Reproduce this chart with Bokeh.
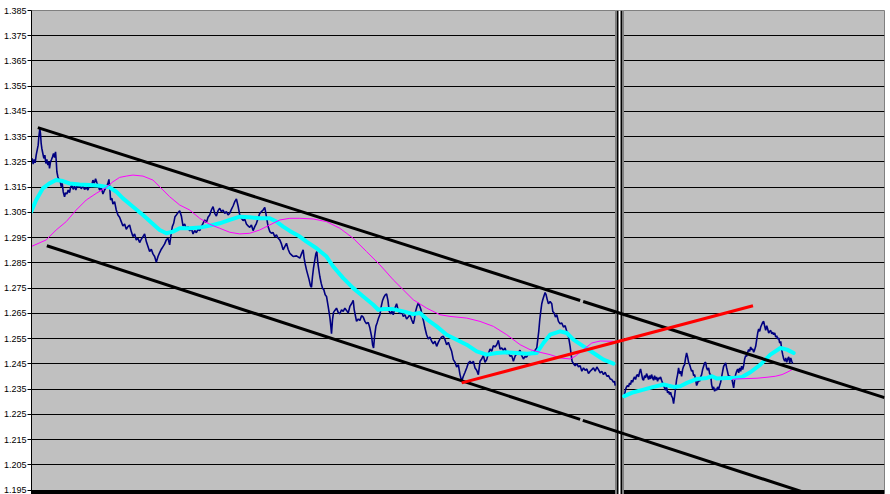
from bokeh.plotting import figure
from bokeh.models import Range1d, FixedTicker, PrintfTickFormatter
from bokeh.embed import file_html
from bokeh.resources import INLINE

# ---------------- data (time index t, price) ----------------
tick_values = [1.195, 1.205, 1.215, 1.225, 1.235, 1.245, 1.255, 1.265, 1.275, 1.285,
               1.295, 1.305, 1.315, 1.325, 1.335, 1.345, 1.355, 1.365, 1.375, 1.385]

price_left_t = [
    95, 98, 101, 104, 107, 110, 113, 116, 118, 121, 123, 125, 127, 130, 133, 136, 139, 142, 145, 148,
    150, 153, 156, 159, 162, 165, 168, 170, 172, 175, 178, 181, 185, 188, 191, 195, 198, 202, 206, 210,
    213, 217, 221, 225, 229, 233, 237, 241, 245, 250, 255, 260, 265, 270, 275, 280, 284, 288, 292, 296,
    300, 305, 310, 315, 320, 325, 328, 331, 333, 337, 340, 345, 350, 355, 360, 365, 370, 375, 380, 385,
    390, 395, 400, 405, 410, 415, 420, 425, 430, 435, 440, 445, 450, 455, 460, 465, 470, 475, 480, 485,
    490, 495, 500, 505, 510, 514, 518, 522, 526, 530, 535, 540, 545, 550, 555, 560, 565, 570, 575, 580,
    585, 590, 595, 600, 605, 610, 615, 620, 625, 630, 635, 640, 645, 650, 655, 660, 665, 670, 675, 680,
    685, 690, 695, 700, 705, 710, 715, 720, 725, 730, 735, 740, 745, 750, 755, 760, 765, 770, 775, 780,
    785, 790, 795, 800, 805, 810, 815, 820, 825, 830, 835, 840, 845, 850, 855, 860, 865, 870, 875, 880,
    890, 900,
    905, 910, 913, 916, 920, 924, 928, 932, 935, 938, 941, 945, 948, 951, 954, 957, 960, 964, 968, 972,
    976, 980, 985, 990, 993, 995, 998, 1001, 1005, 1010, 1015, 1020, 1025, 1030, 1035, 1040, 1045, 1050,
    1055, 1060, 1063, 1066, 1070, 1075, 1080, 1085, 1090, 1095, 1100, 1105, 1110, 1115, 1118, 1121, 1124,
    1128, 1132, 1136, 1140, 1144, 1148, 1152, 1156, 1160, 1164, 1168, 1172, 1176, 1180, 1185, 1190, 1195,
    1200, 1205, 1210, 1215, 1220, 1225, 1230, 1235, 1240, 1243, 1247, 1251, 1255, 1259, 1263, 1267, 1271,
    1275, 1280, 1285, 1290, 1295, 1300, 1305, 1310, 1315, 1320, 1325, 1330, 1335, 1340, 1345, 1350, 1355,
    1360, 1365, 1370, 1375, 1380, 1385, 1390, 1395, 1400, 1405, 1410, 1415, 1420, 1425, 1430, 1435, 1440,
    1445, 1450, 1455, 1460, 1465, 1470, 1475, 1480, 1485, 1490, 1495, 1500, 1505, 1510, 1515, 1520, 1525,
    1530, 1535, 1540, 1545, 1550, 1555, 1560, 1565, 1570, 1575, 1580, 1585, 1590, 1595, 1600, 1605, 1610,
    1613, 1616, 1619, 1622, 1625, 1628, 1631, 1635, 1638, 1641, 1645, 1650, 1655, 1658, 1662, 1666, 1670,
    1675, 1680, 1685, 1690, 1695, 1700, 1705, 1710, 1713, 1716, 1720, 1725, 1730, 1735, 1740, 1745, 1750,
    1755, 1760, 1765, 1770, 1775, 1780, 1785, 1790, 1795, 1800, 1805, 1810, 1815, 1820, 1825, 1830, 1835,
    1840, 1843, 1845]

price_left = [
    1.32506, 1.32637, 1.32413, 1.32598, 1.32466, 1.32769, 1.32967, 1.33164, 1.33494, 1.33823,
    1.33626, 1.33230, 1.33033, 1.32835, 1.32637, 1.32769, 1.32440, 1.32598, 1.32374, 1.32506,
    1.32242, 1.32506, 1.32598, 1.32703, 1.32835, 1.32677, 1.32901, 1.32572, 1.32110, 1.31913,
    1.31781, 1.31807, 1.31518, 1.31649, 1.31320, 1.31122, 1.31280, 1.31228, 1.31386, 1.31280,
    1.31491, 1.31583, 1.31412, 1.31544, 1.31386, 1.31583, 1.31491, 1.31583, 1.31438, 1.31544,
    1.31412, 1.31491, 1.31386, 1.31583, 1.31491, 1.31781, 1.31649, 1.31834, 1.31676, 1.31544,
    1.31386, 1.31491, 1.31228, 1.31386, 1.31491, 1.31649, 1.31807, 1.31386, 1.30991, 1.31056,
    1.30832, 1.30925, 1.30595, 1.30398, 1.30305, 1.30134, 1.29963, 1.30042, 1.29831, 1.29937,
    1.30002, 1.29739, 1.29541, 1.29647, 1.29409, 1.29475, 1.29304, 1.29436, 1.29541, 1.29647,
    1.29344, 1.29146, 1.28948, 1.29041, 1.28856, 1.28751, 1.28527, 1.28751, 1.28909, 1.29041,
    1.29146, 1.29251, 1.29409, 1.29475, 1.29212, 1.29607, 1.29937, 1.30068, 1.30332, 1.30398,
    1.30490, 1.30569, 1.30358, 1.29963, 1.30042, 1.29831, 1.29937, 1.29765, 1.29871, 1.29647,
    1.29778, 1.29699, 1.29831, 1.29778, 1.29937, 1.30068, 1.30200, 1.30095, 1.30305, 1.30398,
    1.30595, 1.30727, 1.30464, 1.30358, 1.30569, 1.30661, 1.30529, 1.30595, 1.30464, 1.30529,
    1.30398, 1.30464, 1.30622, 1.30753, 1.30925, 1.31030, 1.30753, 1.30398, 1.30266, 1.30174,
    1.30226, 1.30042, 1.29963, 1.29910, 1.30002, 1.29778, 1.29937, 1.30068, 1.30266, 1.30464,
    1.30529, 1.30595, 1.30701, 1.30332, 1.29937, 1.29739, 1.29673, 1.29699, 1.29541, 1.29607,
    1.29475, 1.29409, 1.29251, 1.29014, 1.29146, 1.29278, 1.29041, 1.28883, 1.28817, 1.28751,
    1.28777, 1.28685,
    1.28856, 1.29014, 1.28684, 1.28460, 1.28223, 1.28026, 1.27828, 1.27591, 1.27538, 1.27960,
    1.28289, 1.28619, 1.28856, 1.28948, 1.28487, 1.28223, 1.27960, 1.27696, 1.27499, 1.27433,
    1.27235, 1.27170, 1.26774, 1.26353, 1.25984, 1.25694, 1.26247, 1.26537, 1.26616, 1.26708,
    1.26537, 1.26484, 1.26643, 1.26577, 1.26708, 1.26616, 1.26511, 1.26774, 1.26880, 1.27012,
    1.26643, 1.26445, 1.26181, 1.26274, 1.26221, 1.26405, 1.26353, 1.26181, 1.26089, 1.26142,
    1.25918, 1.25588, 1.25259, 1.25127, 1.25588, 1.25984, 1.26142, 1.26313, 1.26445, 1.26774,
    1.27012, 1.27143, 1.27235, 1.27275, 1.27012, 1.26577, 1.26484, 1.26577, 1.26445, 1.26708,
    1.26880, 1.26616, 1.26484, 1.26577, 1.26379, 1.26445, 1.26274, 1.26353, 1.26445, 1.26247,
    1.26089, 1.26247, 1.26577, 1.26774, 1.26906, 1.26800, 1.26643, 1.26379, 1.26181, 1.25918,
    1.25654, 1.25483, 1.25562, 1.25391, 1.25298, 1.25391, 1.25193, 1.25351, 1.25483, 1.25562,
    1.25588, 1.25457, 1.25259, 1.25351, 1.25167, 1.24995, 1.24666, 1.24561, 1.24376, 1.24468,
    1.24073, 1.23810, 1.24007, 1.24165, 1.24337, 1.24534, 1.24600, 1.24508, 1.24600, 1.24337,
    1.24244, 1.24073, 1.24600, 1.24692, 1.24824, 1.24561, 1.24666, 1.24903, 1.25088, 1.24995,
    1.25219, 1.25167, 1.25259, 1.25430, 1.25088, 1.25127, 1.25035, 1.25127, 1.24903, 1.24956,
    1.24798, 1.24824, 1.24600, 1.24798, 1.24903, 1.24956, 1.25035, 1.24824, 1.24692, 1.24798,
    1.24771, 1.24903, 1.24864, 1.24956, 1.24903, 1.25035, 1.25127, 1.25457, 1.25786, 1.26247,
    1.26577, 1.26880, 1.27038, 1.27170, 1.27327, 1.27235, 1.27064, 1.26880, 1.26972, 1.26880,
    1.26577, 1.26511, 1.26353, 1.26445, 1.26181, 1.26089, 1.26115, 1.25957, 1.26010, 1.25786,
    1.25588, 1.25193, 1.24864, 1.24600, 1.24508, 1.24429, 1.24508, 1.24376, 1.24429, 1.24205,
    1.24337, 1.24244, 1.24298, 1.24113, 1.24205, 1.24271, 1.24337, 1.24205, 1.24376, 1.24271,
    1.24139, 1.24205, 1.24073, 1.24165, 1.24007, 1.24034, 1.23902, 1.23876, 1.23771, 1.23810,
    1.23638]

price_right_start = 1873
price_right_step = 3
price_right = [
    1.23283, 1.23480, 1.23586, 1.23638, 1.23586, 1.23744, 1.23678, 1.23849, 1.23770, 1.23902,
    1.23981, 1.23876, 1.24034, 1.24073, 1.23981, 1.24165, 1.24297, 1.24113, 1.23902, 1.23849,
    1.24034, 1.23941, 1.24113, 1.24007, 1.23876, 1.24034, 1.23902, 1.24073, 1.23941, 1.23849,
    1.24034, 1.23876, 1.23981, 1.23810, 1.23941, 1.23902, 1.23981, 1.23849, 1.23744, 1.23638,
    1.23546, 1.23454, 1.23586, 1.23349, 1.23414, 1.23283, 1.23375, 1.23217, 1.23151, 1.22927,
    1.23217, 1.23546, 1.23876, 1.24073, 1.24337, 1.24113, 1.24205, 1.24007, 1.24271, 1.24403,
    1.24469, 1.24732, 1.24930, 1.24772, 1.24561, 1.24469, 1.24337, 1.24205, 1.24245, 1.24034,
    1.24073, 1.23876, 1.23638, 1.23744, 1.23876, 1.23810, 1.23981, 1.24073, 1.24271, 1.24403,
    1.24535, 1.24561, 1.24337, 1.24245, 1.24337, 1.24113, 1.24073, 1.23678, 1.23507, 1.23586,
    1.23414, 1.23507, 1.23454, 1.23586, 1.23480, 1.23638, 1.23770, 1.23981, 1.24205, 1.24403,
    1.24469, 1.24535, 1.24337, 1.24165, 1.23981, 1.24034, 1.23876, 1.23941, 1.23744, 1.23546,
    1.23876, 1.24073, 1.24205, 1.24297, 1.24140, 1.24337, 1.24205, 1.24403, 1.24271, 1.24429,
    1.24693, 1.24825, 1.24798, 1.24956, 1.25062, 1.24996, 1.25167, 1.25062, 1.25088, 1.24956,
    1.25062, 1.25194, 1.25457, 1.25721, 1.25879, 1.25786, 1.25958, 1.26050, 1.26142, 1.26182,
    1.25984, 1.25826, 1.26010, 1.25879, 1.25721, 1.25786, 1.25826, 1.25694, 1.25747, 1.25655,
    1.25721, 1.25562, 1.25615, 1.25483, 1.25523, 1.25325, 1.25391, 1.25062, 1.24864, 1.24693,
    1.24601, 1.24732, 1.24561, 1.24693, 1.24772, 1.24535, 1.24732, 1.24601, 1.24508]
price_right_t = [price_right_start + price_right_step * i for i in range(len(price_right))]

ma_fast_left_t = [95, 110, 130, 150, 170, 190, 210, 240, 270, 300, 330, 350, 370, 400, 430, 460, 480,
                  500, 520, 540, 570, 600, 630, 660, 690, 720, 750, 780, 810, 830, 850, 870, 900,
                  920, 950, 980, 1000, 1030, 1060, 1090, 1120, 1135, 1150, 1180, 1210, 1240, 1260,
                  1280, 1310, 1340, 1370, 1400, 1430, 1460, 1490, 1520, 1550, 1580, 1610, 1630, 1650,
                  1680, 1700, 1720, 1750, 1780, 1810, 1840]
ma_fast_left = [1.30529, 1.30991, 1.31452, 1.31649, 1.31781, 1.31742, 1.31649, 1.31610, 1.31583,
                1.31557, 1.31491, 1.31320, 1.31056, 1.30727, 1.30398, 1.30042, 1.29805, 1.29673,
                1.29739, 1.29871, 1.29871, 1.29897, 1.29976, 1.30068, 1.30200, 1.30332, 1.30305,
                1.30266, 1.30266, 1.30134, 1.29937, 1.29765, 1.29541, 1.29343, 1.29080, 1.28751,
                1.28356, 1.27895, 1.27499, 1.27170, 1.26840, 1.26643, 1.26669, 1.26669, 1.26577,
                1.26471, 1.26511, 1.26274, 1.25984, 1.25654, 1.25457, 1.25259, 1.24995, 1.24864,
                1.24930, 1.24956, 1.24930, 1.24903, 1.24930, 1.25325, 1.25654, 1.25786, 1.25720,
                1.25457, 1.25193, 1.24930, 1.24666, 1.24508]
ma_fast_right_t = [1872, 1900, 1930, 1960, 1990, 2020, 2040, 2060, 2090, 2120, 2135, 2150, 2180,
                   2200, 2225, 2250, 2280, 2310, 2340, 2360, 2380]
ma_fast_right = [1.23217, 1.23375, 1.23480, 1.23586, 1.23678, 1.23586, 1.23612, 1.23744, 1.23902,
                 1.23941, 1.24007, 1.23915, 1.23941, 1.23941, 1.23981, 1.24165, 1.24469, 1.24864,
                 1.25127, 1.25062, 1.24930]

ma_slow_left_t = [95, 140, 170, 200, 230, 260, 290, 320, 340, 360, 380, 400, 430, 460, 480, 510,
                  540, 570, 600, 630, 660, 690, 720, 750, 780, 810, 840, 870, 900, 940, 980, 1020,
                  1060, 1100, 1140, 1180, 1210, 1240, 1280, 1320, 1350, 1400, 1440, 1480, 1520,
                  1560, 1590, 1620, 1650, 1680, 1710, 1725, 1750, 1775, 1800, 1840]
ma_slow_left = [1.29146, 1.29409, 1.29805, 1.30134, 1.30595, 1.30991, 1.31254, 1.31491, 1.31715,
                1.31886, 1.31939, 1.31979, 1.31939, 1.31781, 1.31518, 1.31122, 1.30793, 1.30595,
                1.30266, 1.30029, 1.29871, 1.29713, 1.29647, 1.29673, 1.29805, 1.30002, 1.30200,
                1.30266, 1.30266, 1.30240, 1.30135, 1.29871, 1.29475, 1.28948, 1.28421, 1.27828,
                1.27433, 1.27038, 1.26708, 1.26445, 1.26379, 1.26313, 1.26181, 1.25984, 1.25654,
                1.25259, 1.25062, 1.24956, 1.24864, 1.24732, 1.24693, 1.24798, 1.25062, 1.25325,
                1.25404, 1.25391]
ma_slow_right_t = [2195, 2210, 2240, 2270, 2300, 2325, 2345, 2360, 2375]
ma_slow_right = [1.23876, 1.23902, 1.23915, 1.23929, 1.23968, 1.24007, 1.24073, 1.24165, 1.24271]

# hand-drawn trend lines (each drawn as two pieces, as in the original)
channel_upper_t = [[115, 1740], [1749, 2652]]
channel_upper = [[1.3386, 1.2701], [1.2697, 1.2316]]
channel_lower_t = [[142, 1740], [1748, 2445]]
channel_lower = [[1.2918, 1.2230], [1.2226, 1.1926]]
support_t = [1385, 2258]
support = [1.23745, 1.2680]

# ---------------- layout / style constants ----------------
T_MIN, T_MAX = 96, 2652
Y_MIN, Y_MAX = 1.19322, 1.385
GAP_X0, GAP_X1 = 1846.5, 1869.5
GAP_EDGES = [1846, 1870]
GAP_BARS = [1853, 1863]
BOTTOM_RULE = 1.19401

p = figure(width=890, height=494,
           x_range=Range1d(T_MIN, T_MAX), y_range=Range1d(Y_MIN, Y_MAX),
           output_backend="svg", toolbar_location=None, x_axis_location=None,
           min_border_left=0, min_border_right=6, min_border_top=10, min_border_bottom=0)

p.background_fill_color = "#C0C0C0"
p.border_fill_color = "white"
p.outline_line_color = "#808080"
p.outline_line_width = 1
p.xgrid.visible = False
p.ygrid.grid_line_color = "black"
p.ygrid.grid_line_width = 1

ax = p.yaxis[0]
ax.ticker = FixedTicker(ticks=tick_values)
ax.formatter = PrintfTickFormatter(format="%.3f")
ax.minor_tick_line_color = None
ax.major_tick_out = 4
ax.major_tick_in = 0
ax.major_tick_line_color = "black"
ax.axis_line_color = "black"
ax.major_label_standoff = 1
ax.major_label_text_font = "Liberation Sans"
ax.major_label_text_font_size = "9px"
ax.major_label_text_color = "black"

# bottom rule, then the white gap between the two chart windows
p.hspan(y=[BOTTOM_RULE], line_color="black", line_width=3)
p.vstrip(x0=[GAP_X0], x1=[GAP_X1], fill_color="white", line_color=None)
p.vspan(x=GAP_EDGES, line_color="#808080", line_width=1)
p.vspan(x=GAP_BARS, line_color="black", line_width=2)

# price and moving averages
p.line(price_left_t, price_left, line_color="#000080", line_width=1.6)
p.line(price_right_t, price_right, line_color="#000080", line_width=1.6)
p.line(ma_fast_left_t, ma_fast_left, line_color="#00FFFF", line_width=4, line_cap="round", line_join="round")
p.line(ma_fast_right_t, ma_fast_right, line_color="#00FFFF", line_width=4, line_cap="round", line_join="round")
p.line(ma_slow_left_t, ma_slow_left, line_color="#FF00FF", line_width=1)
p.line(ma_slow_right_t, ma_slow_right, line_color="#FF00FF", line_width=1)

# trend channel and support
p.multi_line(channel_upper_t, channel_upper, line_color="black", line_width=3)
p.multi_line(channel_lower_t, channel_lower, line_color="black", line_width=3)
p.line(support_t, support, line_color="#FF0000", line_width=3)

open("out.html", "w").write(file_html(p, INLINE))
